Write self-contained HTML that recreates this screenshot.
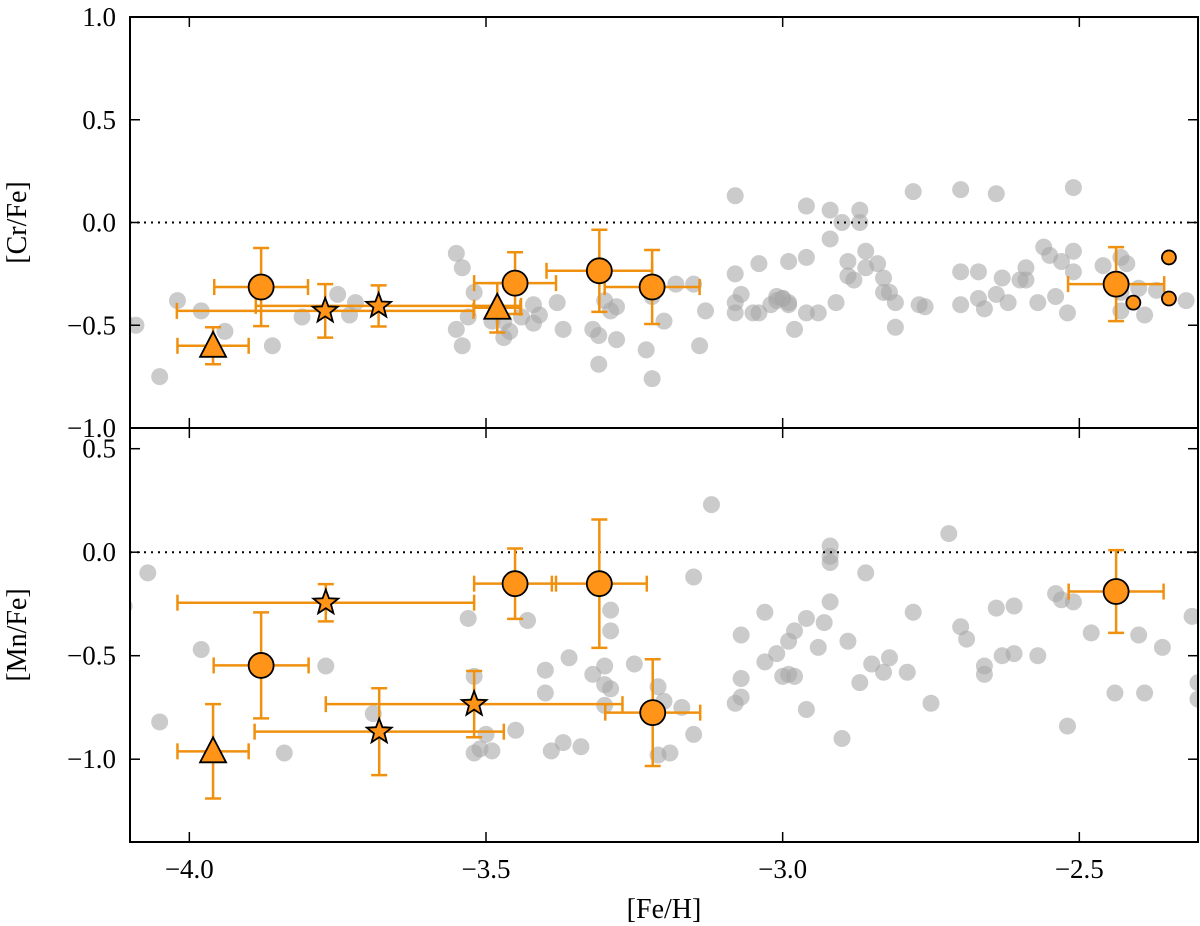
<!DOCTYPE html>
<html><head><meta charset="utf-8"><style>
html,body{margin:0;padding:0;background:#fff;}
svg{display:block;font-family:"Liberation Serif",serif;}
</style></head><body>
<svg id="chart" width="1200" height="926" viewBox="0 0 1200 926" xmlns="http://www.w3.org/2000/svg"></svg>
<script>
// ---- data ----
const crGrayX=[-4.11,-4.09,-4.05,-4.02,-3.98,-3.94,-3.86,-3.81,-3.75,-3.73,-3.72,-3.55,-3.54,-3.55,-3.54,-3.53,-3.52,-3.49,-3.47,-3.47,-3.46,-3.44,-3.42,-3.42,-3.41,-3.38,-3.37,-3.32,-3.31,-3.31,-3.30,-3.29,-3.28,-3.28,-3.23,-3.22,-3.22,-3.20,-3.18,-3.15,-3.14,-3.13,-3.08,-3.08,-3.07,-3.08,-3.05,-3.04,-3.04,-3.02,-3.01,-3.01,-3.00,-3.00,-2.99,-2.99,-2.99,-2.98,-2.96,-2.96,-2.94,-2.92,-2.92,-2.91,-2.90,-2.89,-2.89,-2.88,-2.87,-2.87,-2.86,-2.86,-2.84,-2.83,-2.83,-2.82,-2.81,-2.81,-2.78,-2.77,-2.76,-2.70,-2.70,-2.67,-2.67,-2.66,-2.64,-2.64,-2.63,-2.62,-2.60,-2.59,-2.59,-2.57,-2.56,-2.55,-2.54,-2.53,-2.52,-2.51,-2.51,-2.46,-2.43,-2.43,-2.43,-2.42,-2.40,-2.39,-2.37,-2.32,-2.51,-2.70,-3.08,-2.96];
const crGrayY=[-0.48,-0.50,-0.75,-0.38,-0.43,-0.53,-0.60,-0.46,-0.35,-0.45,-0.39,-0.15,-0.22,-0.52,-0.60,-0.46,-0.34,-0.48,-0.56,-0.48,-0.53,-0.46,-0.40,-0.49,-0.45,-0.39,-0.52,-0.52,-0.69,-0.55,-0.38,-0.43,-0.41,-0.57,-0.62,-0.76,-0.36,-0.48,-0.30,-0.30,-0.60,-0.43,-0.25,-0.39,-0.35,-0.44,-0.44,-0.20,-0.44,-0.40,-0.38,-0.36,-0.37,-0.37,-0.40,-0.39,-0.19,-0.52,-0.44,-0.17,-0.44,-0.08,0.06,-0.39,0.00,-0.26,-0.19,-0.28,0.00,0.06,-0.22,-0.14,-0.20,-0.34,-0.27,-0.34,-0.39,-0.51,0.15,-0.40,-0.41,-0.24,-0.40,-0.24,-0.37,-0.42,-0.35,0.14,-0.27,-0.39,-0.28,-0.28,-0.22,-0.39,-0.12,-0.16,-0.36,-0.19,-0.44,-0.14,-0.24,-0.21,-0.34,-0.43,-0.17,-0.20,-0.32,-0.45,-0.33,-0.38,0.17,0.16,0.13,0.08];
const mnGrayX=[-4.11,-4.07,-4.05,-3.98,-3.84,-3.77,-3.69,-3.53,-3.52,-3.51,-3.50,-3.49,-3.52,-3.45,-3.43,-3.40,-3.40,-3.39,-3.37,-3.36,-3.34,-3.32,-3.30,-3.30,-3.29,-3.30,-3.29,-3.29,-3.25,-3.21,-3.20,-3.19,-3.21,-3.17,-3.15,-3.12,-3.15,-3.08,-3.07,-3.07,-3.07,-3.03,-3.03,-3.01,-3.00,-2.99,-2.99,-2.98,-2.98,-2.96,-2.96,-2.94,-2.93,-2.92,-2.92,-2.92,-2.92,-2.90,-2.89,-2.87,-2.86,-2.85,-2.83,-2.82,-2.79,-2.78,-2.75,-2.72,-2.70,-2.69,-2.66,-2.66,-2.64,-2.63,-2.61,-2.57,-2.54,-2.53,-2.52,-2.51,-2.48,-2.44,-2.40,-2.39,-2.36,-2.31,-2.30,-2.30,-2.61];
const mnGrayY=[-0.26,-0.10,-0.82,-0.47,-0.97,-0.55,-0.78,-0.32,-0.97,-0.95,-0.88,-0.96,-0.60,-0.86,-0.33,-0.57,-0.68,-0.96,-0.92,-0.51,-0.94,-0.59,-0.55,-0.64,-0.66,-0.74,-0.38,-0.28,-0.54,-0.65,-0.72,-0.97,-0.98,-0.75,-0.12,0.23,-0.88,-0.73,-0.70,-0.61,-0.40,-0.29,-0.53,-0.49,-0.60,-0.43,-0.59,-0.60,-0.38,-0.32,-0.76,-0.46,-0.34,0.03,-0.02,-0.05,-0.24,-0.90,-0.43,-0.63,-0.10,-0.54,-0.58,-0.51,-0.58,-0.29,-0.73,0.09,-0.36,-0.42,-0.55,-0.59,-0.27,-0.50,-0.49,-0.50,-0.20,-0.23,-0.84,-0.24,-0.39,-0.68,-0.40,-0.68,-0.46,-0.31,-0.63,-0.71,-0.26];
const crCircX=[-3.879,-3.451,-3.309,-3.220,-2.438], crCircY=[-0.314,-0.295,-0.235,-0.314,-0.30], crCircXe=[0.079,0.069,0.089,0.08,0.081], crCircYe=[0.19,0.15,0.20,0.18,0.18];
const crSmallX=[-2.409,-2.349,-2.349], crSmallY=[-0.39,-0.17,-0.37];
const crStarX=[-3.771,-3.681], crStarY=[-0.43,-0.406], crStarXlo=[0.25,0.207], crStarXhi=[0.25,0.24], crStarYe=[0.13,0.10];
const crTriX=[-3.960,-3.481], crTriY=[-0.60,-0.415], crTriXe=[0.06,0.039], crTriYe=[0.09,0.12];
const mnCircX=[-3.879,-3.451,-3.309,-3.219,-2.438], mnCircY=[-0.547,-0.152,-0.152,-0.775,-0.19], mnCircXe=[0.08,0.069,0.08,0.08,0.08], mnCircYe=[0.256,0.17,0.31,0.258,0.20];
const mnStarX=[-3.770,-3.680,-3.520], mnStarY=[-0.244,-0.867,-0.734], mnStarXlo=[0.25,0.21,0.25], mnStarXhi=[0.25,0.21,0.25], mnStarYe=[0.09,0.21,0.16];
const mnTriX=[-3.960], mnTriY=[-0.962], mnTriXe=[0.06], mnTriYe=[0.228];
const xTicks=[-4.0,-3.5,-3.0,-2.5], xTickLabels=["\u22124.0","\u22123.5","\u22123.0","\u22122.5"];
const crTicks=[1.0,0.5,0.0,-0.5,-1.0], crTickLabels=["1.0","0.5","0.0","\u22120.5","\u22121.0"];
const mnTicks=[0.5,0.0,-0.5,-1.0], mnTickLabels=["0.5","0.0","\u22120.5","\u22121.0"];

const NS="http://www.w3.org/2000/svg", svg=document.getElementById('chart');
const L=130,R=1198,T1=17,B1=428,T2=428,B2=842;
const X0=-4.1,X1=-2.3;
const sx=v=>L+(v-X0)/(X1-X0)*(R-L);
const syTop=v=>T1+(1.0-v)/2.0*(B1-T1);
const syBot=v=>T2+(0.6-v)/2.0*(B2-T2);
function mk(tag,attrs,parent){const e=document.createElementNS(NS,tag);for(const k in attrs)e.setAttribute(k,attrs[k]);(parent||svg).appendChild(e);return e;}
const OR="#f0900f", FILL="#ff9418";

function panel(name,pTop,pBot,sy,gx,gy,ticks,labels,title){
  const g=mk('g',{});
  
  
  const clipId=name+'-clip';
  const cp=mk('clipPath',{id:clipId},g);mk('rect',{x:L,y:pTop,width:R-L,height:pBot-pTop},cp);
  const data=mk('g',{'clip-path':'url(#'+clipId+')'},g);
  for(let i=0;i<gx.length;i++){
    const c=mk('circle',{cx:sx(gx[i]),cy:sy(gy[i]),r:8.5,fill:'#a8a8a8','fill-opacity':0.6},data);
    
    
  }
  const z=mk('line',{x1:L,x2:R,y1:sy(0),y2:sy(0),stroke:'#000','stroke-width':2,'stroke-dasharray':'2,5'},data);
  
  
  ticks.forEach((t,i)=>{
    const y=sy(t);
    mk('line',{x1:L,x2:L+10,y1:y,y2:y,stroke:'#000','stroke-width':1.5},g);
    mk('line',{x1:R-10,x2:R,y1:y,y2:y,stroke:'#000','stroke-width':1.5},g);
    const tx=mk('text',{x:L-14,y:y+9,'text-anchor':'end','font-size':27},g);
    tx.textContent=labels[i];
    
    
  });
  xTicks.forEach(t=>{
    const x=sx(t);
    mk('line',{x1:x,x2:x,y1:pBot,y2:pBot-10,stroke:'#000','stroke-width':1.5},g);
    mk('line',{x1:x,x2:x,y1:pTop,y2:pTop+10,stroke:'#000','stroke-width':1.5},g);
  });
  const yt=mk('text',{x:0,y:0,'text-anchor':'middle','font-size':28,transform:`translate(26,${(pTop+pBot)/2}) rotate(-90)`},g);
  yt.textContent=title;
  
  
  return {g,data};
}
function errbar(p,x,y,xlo,xhi,ye,sy){
  const g=mk('g',{stroke:OR,'stroke-width':2.5,fill:'none'},p);
  const px=sx(x),py=sy(y),x1=sx(x-xlo),x2=sx(x+xhi),y1=sy(y+ye),y2=sy(y-ye);
  mk('line',{x1:x1,x2:x2,y1:py,y2:py},g);
  mk('line',{x1:px,x2:px,y1:y1,y2:y2},g);
  mk('line',{x1:x1,x2:x1,y1:py-8,y2:py+8},g);
  mk('line',{x1:x2,x2:x2,y1:py-8,y2:py+8},g);
  mk('line',{x1:px-8,x2:px+8,y1:y1,y2:y1},g);
  mk('line',{x1:px-8,x2:px+8,y1:y2,y2:y2},g);
}
function circ(p,x,y,r,sy,nm){const c=mk('circle',{cx:sx(x),cy:sy(y),r:r,fill:FILL,stroke:'#000','stroke-width':1.8},p);
  
  }
function star(p,x,y,sy,nm){const cx=sx(x),cy=sy(y);let pts=[];for(let k=0;k<10;k++){const a=-Math.PI/2+k*Math.PI/5,r=k%2?5.5:13;pts.push((cx+r*Math.cos(a)).toFixed(1)+','+(cy+r*Math.sin(a)).toFixed(1));}
  const s=mk('polygon',{points:pts.join(' '),fill:FILL,stroke:'#000','stroke-width':1.8},p);
  
  }
function tri(p,x,y,sy,nm){const cx=sx(x),cy=sy(y);
  const s=mk('polygon',{points:`${cx},${cy-14} ${cx-13},${cy+11} ${cx+13},${cy+11}`,fill:FILL,stroke:'#000','stroke-width':1.8},p);
  
  }

const topP=panel('cr',T1,B1,syTop,crGrayX,crGrayY,crTicks,crTickLabels,'[Cr/Fe]');
crTriX.forEach((x,i)=>errbar(topP.data,x,crTriY[i],crTriXe[i],crTriXe[i],crTriYe[i],syTop));
crStarX.forEach((x,i)=>errbar(topP.data,x,crStarY[i],crStarXlo[i],crStarXhi[i],crStarYe[i],syTop));
crCircX.forEach((x,i)=>errbar(topP.data,x,crCircY[i],crCircXe[i],crCircXe[i],crCircYe[i],syTop));
crTriX.forEach((x,i)=>tri(topP.data,x,crTriY[i],syTop,'cr-triangle-star'));
crStarX.forEach((x,i)=>star(topP.data,x,crStarY[i],syTop,'cr-star-marker'));
crCircX.forEach((x,i)=>circ(topP.data,x,crCircY[i],12.5,syTop,'cr-circle-star'));
crSmallX.forEach((x,i)=>circ(topP.data,x,crSmallY[i],7,syTop,'cr-small-circle'));

const botP=panel('mn',T2,B2,syBot,mnGrayX,mnGrayY,mnTicks,mnTickLabels,'[Mn/Fe]');
mnTriX.forEach((x,i)=>errbar(botP.data,x,mnTriY[i],mnTriXe[i],mnTriXe[i],mnTriYe[i],syBot));
mnStarX.forEach((x,i)=>errbar(botP.data,x,mnStarY[i],mnStarXlo[i],mnStarXhi[i],mnStarYe[i],syBot));
mnCircX.forEach((x,i)=>errbar(botP.data,x,mnCircY[i],mnCircXe[i],mnCircXe[i],mnCircYe[i],syBot));
mnTriX.forEach((x,i)=>tri(botP.data,x,mnTriY[i],syBot,'mn-triangle-star'));
mnStarX.forEach((x,i)=>star(botP.data,x,mnStarY[i],syBot,'mn-star-marker'));
mnCircX.forEach((x,i)=>circ(botP.data,x,mnCircY[i],12.5,syBot,'mn-circle-star'));

const f1=mk('rect',{x:L,y:T1,width:R-L,height:B1-T1,fill:'none',stroke:'#000','stroke-width':2});


const f2=mk('rect',{x:L,y:T2,width:R-L,height:B2-T2,fill:'none',stroke:'#000','stroke-width':2});


xTicks.forEach((t,i)=>{const tx=mk('text',{x:sx(t),y:B2+36,'text-anchor':'middle','font-size':27});
  tx.textContent=xTickLabels[i];
  
  });
const xt=mk('text',{x:(L+R)/2,y:B2+76,'text-anchor':'middle','font-size':28});
xt.textContent='[Fe/H]';


</script>
</body></html>
